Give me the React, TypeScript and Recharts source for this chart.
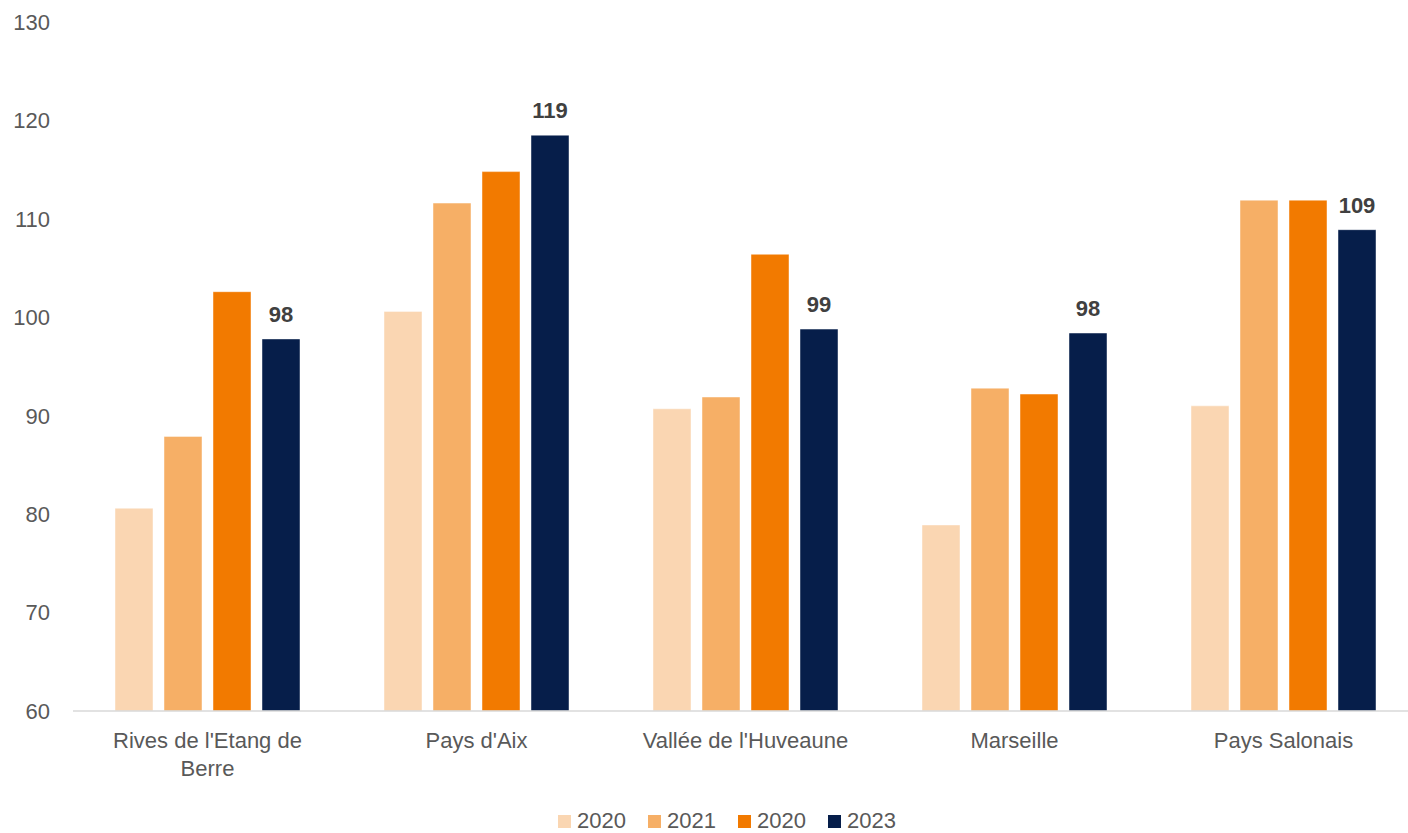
import { BarChart, Bar, XAxis, YAxis, Legend, LabelList } from 'recharts'

const territories = ["Rives de l'Etang de Berre", "Pays d'Aix", "Vallée de l'Huveaune", 'Marseille', 'Pays Salonais']
const values2020a = [80.6, 100.6, 90.7, 78.9, 91.0]
const values2021 = [87.9, 111.6, 91.9, 92.8, 111.9]
const values2020b = [102.6, 114.8, 106.4, 92.2, 111.9]
const values2023 = [97.8, 118.5, 98.8, 98.4, 108.9]
const yTicks = [60, 70, 80, 90, 100, 110, 120, 130]

const series = [
  { key: 'a', name: '2020', color: '#FAD6B2' },
  { key: 'b', name: '2021', color: '#F6AF66' },
  { key: 'c', name: '2020', color: '#F27A00' },
  { key: 'd', name: '2023', color: '#061E4A' },
]

const data = territories.map((name, i) => ({
  name,
  a: values2020a[i],
  b: values2021[i],
  c: values2020b[i],
  d: values2023[i],
}))

const FONT = "'Century Gothic', 'Liberation Sans', Arial, sans-serif"

// wrap like excel does at this width (~20 chars per line)
function wrapLabel(label: string, max = 20) {
  const lines: string[] = []
  let cur = ''
  for (const w of label.split(' ')) {
    const next = cur ? cur + ' ' + w : w
    if (next.length > max && cur) {
      lines.push(cur)
      cur = w
    } else {
      cur = next
    }
  }
  if (cur) lines.push(cur)
  return lines
}

function CategoryTick(props: any) {
  const { x, y, payload } = props
  const lines = wrapLabel(String(payload.value))
  return (
    <text x={x} y={y} textAnchor="middle" fill="#595959" fontSize={22} fontFamily={FONT}>
      {lines.map((l, i) => (
        <tspan key={i} x={x} dy={i === 0 ? 16 : 28}>
          {l}
        </tspan>
      ))}
    </text>
  )
}

function LegendBox() {
  return (
    <div style={{ display: 'flex', justifyContent: 'center', height: 24, lineHeight: '24px', fontFamily: FONT, fontSize: 22, color: '#595959' }}>
      {series.map((s, i) => (
        <div key={i} style={{ display: 'flex', alignItems: 'center', marginRight: i < series.length - 1 ? 22 : 0 }}>
          <span style={{ width: 13, height: 13, background: s.color, display: 'inline-block', marginRight: 6 }} />
          <span>{s.name}</span>
        </div>
      ))}
    </div>
  )
}

export default function App() {
  return (
    <div style={{ position: 'absolute', left: 0, top: 0, width: 1408, height: 833, overflow: 'hidden', background: '#fff' }}>
      <BarChart
        width={1420}
        height={833}
        data={data}
        margin={{ top: 22, right: 2, left: 0, bottom: 0 }}
        barSize={38}
        barGap={11}
      >
        <XAxis
          dataKey="name"
          height={98}
          axisLine={{ stroke: '#D9D9D9', strokeWidth: 1.3 }}
          tickLine={false}
          tickMargin={15}
          interval={0}
          tick={<CategoryTick />}
        />
        <YAxis
          width={73}
          domain={[60, 130]}
          ticks={yTicks}
          allowDataOverflow
          axisLine={false}
          tickLine={false}
          tickMargin={17}
          tick={{ fill: '#595959', fontSize: 22, fontFamily: FONT }}
        />
        <Legend
          verticalAlign="bottom"
          content={<LegendBox />}
          wrapperStyle={{ left: 0, width: 1454 }}
        />
        {series.map((s) => (
          <Bar
            key={s.key}
            dataKey={s.key}
            name={s.name}
            fill={s.color}
            stroke="#ffffff"
            strokeOpacity={0.45}
            strokeWidth={1}
            isAnimationActive={false}
          >
            {s.key === 'd' && (
              <LabelList
                dataKey="d"
                position="top"
                offset={17}
                formatter={(v: any) => Math.round(Number(v))}
                fill="#404040"
                fontSize={22}
                fontWeight="bold"
                fontFamily={FONT}
              />
            )}
          </Bar>
        ))}
      </BarChart>
    </div>
  )
}
